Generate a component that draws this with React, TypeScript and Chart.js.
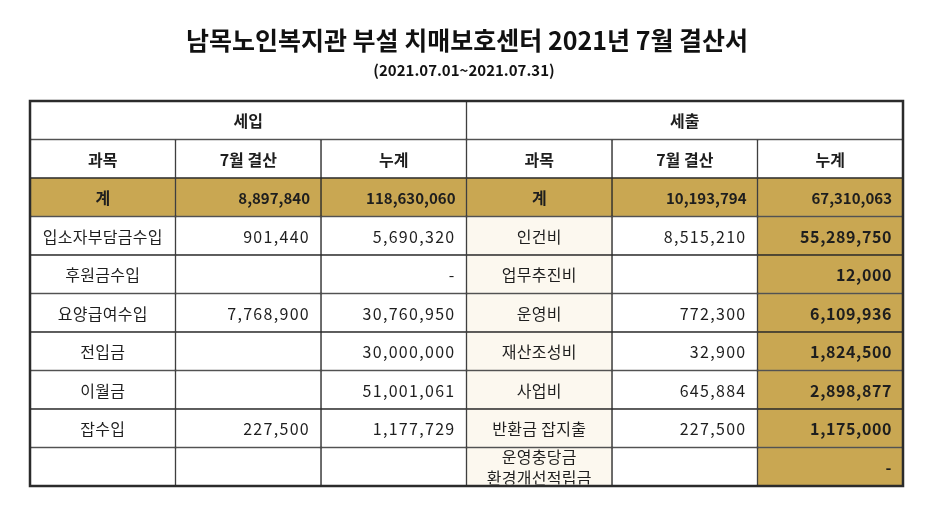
import React, { useEffect, useRef } from "react";
import { Chart, registerables } from "chart.js";

Chart.register(...registerables);

const titleText = "남목노인복지관 부설 치매보호센터 2021년 7월 결산서";
const subtitleText = "(2021.07.01~2021.07.31)";

const sectionHeaders = ["세입", "세출"];
const columnHeaders = ["과목", "7월 결산", "누계"];
const totalLabel = "계";

const incomeItems = ["입소자부담금수입", "후원금수입", "요양급여수입", "전입금", "이월금", "잡수입", ""];
const incomeMonth: (number | null)[] = [901440, null, 7768900, null, null, 227500, null];
const incomeCumulative: (number | null)[] = [5690320, 0, 30760950, 30000000, 51001061, 1177729, null];
const incomeTotalMonth = 8897840;
const incomeTotalCumulative = 118630060;

const expenseItems = ["인건비", "업무추진비", "운영비", "재산조성비", "사업비", "반환금 잡지출", "운영충당금\n환경개선적립금"];
const expenseMonth: (number | null)[] = [8515210, null, 772300, 32900, 645884, 227500, null];
const expenseCumulative: (number | null)[] = [55289750, 12000, 6109936, 1824500, 2898877, 1175000, 0];
const expenseTotalMonth = 10193794;
const expenseTotalCumulative = 67310063;

const rowKeys = ["section", "header", "total", "r1", "r2", "r3", "r4", "r5", "r6", "r7"];
const columnCount = 6;

const GOLD = "#c9a752";
const CREAM = "#fcf8ef";
const WHITE = "#ffffff";
const LINE = "#2b2b2b";
const TEXT = "#1e1e1e";
const FONT = '"Noto Sans CJK KR", "Noto Sans", sans-serif';

const fmt = (v: number | null) => (v === null ? "" : v === 0 ? "-" : v.toLocaleString("en-US"));

type Cell = { text: string; align: "center" | "right"; font: string; spacing: number };

const F_HEAD = `bold 16px ${FONT}`;
const F_TOTAL = `bold 15px ${FONT}`;
const F_ITEM = `16px ${FONT}`;
const F_NUM = `16px ${FONT}`;
const F_NUM_BOLD = `bold 16px ${FONT}`;

function cellFor(row: number, col: number): Cell | null {
  if (row === 0) {
    if (col === 0) return { text: sectionHeaders[0], align: "center", font: F_HEAD, spacing: 0 };
    if (col === 3) return { text: sectionHeaders[1], align: "center", font: F_HEAD, spacing: 0 };
    return null;
  }
  if (row === 1) return { text: columnHeaders[col % 3], align: "center", font: F_HEAD, spacing: 0 };
  if (row === 2) {
    const vals = [totalLabel, fmt(incomeTotalMonth), fmt(incomeTotalCumulative), totalLabel, fmt(expenseTotalMonth), fmt(expenseTotalCumulative)];
    return { text: vals[col], align: col % 3 === 0 ? "center" : "right", font: col % 3 === 0 ? F_HEAD : F_TOTAL, spacing: 0 };
  }
  const i = row - 3;
  switch (col) {
    case 0: return { text: incomeItems[i], align: "center", font: F_ITEM, spacing: 0.3 };
    case 1: return { text: fmt(incomeMonth[i]), align: "right", font: F_NUM, spacing: 1.3 };
    case 2: return { text: fmt(incomeCumulative[i]), align: "right", font: F_NUM, spacing: 1.3 };
    case 3: return { text: expenseItems[i], align: "center", font: F_ITEM, spacing: 0.3 };
    case 4: return { text: fmt(expenseMonth[i]), align: "right", font: F_NUM, spacing: 1.3 };
    default: return { text: fmt(expenseCumulative[i]), align: "right", font: F_NUM_BOLD, spacing: 0.6 };
  }
}

function fillFor(row: number, col: number): string {
  if (row === 2) return GOLD;
  if (row >= 3 && col === 5) return GOLD;
  if (row >= 3 && col === 3) return CREAM;
  return WHITE;
}

const tablePlugin = {
  id: "tableText",
  afterDatasetsDraw(chart: any) {
    const { ctx, scales, chartArea } = chart;
    const xs = scales.x;
    const ys = scales.y;
    const rowH = Math.abs(ys.getPixelForValue(1) - ys.getPixelForValue(0));
    ctx.save();
    ctx.lineWidth = 2.5;
    ctx.strokeStyle = LINE;
    ctx.strokeRect(chartArea.left, chartArea.top, chartArea.right - chartArea.left, chartArea.bottom - chartArea.top);
    for (let r = 0; r < rowKeys.length; r++) {
      const cy = ys.getPixelForValue(r);
      for (let c = 0; c < columnCount; c++) {
        const cell = cellFor(r, c);
        if (!cell || !cell.text) continue;
        const span = r === 0 ? 3 : 1;
        const x0 = xs.getPixelForValue(c);
        const x1 = xs.getPixelForValue(c + span);
        ctx.save();
        ctx.beginPath();
        ctx.rect(x0 + 1, cy - rowH / 2 + 1.5, x1 - x0 - 2, rowH - 3);
        ctx.clip();
        ctx.fillStyle = TEXT;
        ctx.font = cell.font;
        (ctx as any).letterSpacing = `${cell.spacing}px`;
        ctx.textBaseline = "middle";
        ctx.textAlign = cell.align;
        const tx = cell.align === "center" ? (x0 + x1) / 2 : x1 - 11;
        const lines = cell.text.split("\n");
        const lh = 21;
        lines.forEach((ln, k) => {
          const ty = cy + 1 + (k - (lines.length - 1) / 2) * lh;
          ctx.fillText(ln, tx, ty);
        });
        ctx.restore();
      }
    }
    ctx.restore();
  },
  afterDraw(chart: any) {
    const { ctx, width } = chart;
    ctx.save();
    ctx.fillStyle = "#111";
    ctx.textAlign = "center";
    ctx.textBaseline = "middle";
    ctx.font = `bold 25px ${FONT}`;
    ctx.fillText(titleText, width / 2 - 3, 40);
    ctx.font = `bold 15px ${FONT}`;
    ctx.fillText(subtitleText, width / 2 - 6, 70);
    ctx.restore();
  },
};

export default function App() {
  const ref = useRef<HTMLCanvasElement>(null);
  useEffect(() => {
    document.body.style.margin = "0";
    const datasets = [];
    for (let c = 0; c < columnCount; c++) {
      const data = rowKeys.map((_, r) => {
        if (r === 0) {
          if (c === 0) return [0, 3];
          if (c === 3) return [3, 6];
          return null;
        }
        return [c, c + 1];
      });
      datasets.push({
        label: `col${c}`,
        data,
        backgroundColor: rowKeys.map((_, r) => fillFor(r, c)),
        borderColor: LINE,
        borderWidth: 1,
        borderSkipped: false,
        barPercentage: 1,
        categoryPercentage: 1,
        grouped: false,
      });
    }
    const chart = new Chart(ref.current!, {
      type: "bar",
      data: { labels: rowKeys, datasets: datasets as any },
      options: {
        indexAxis: "y",
        responsive: false,
        animation: false,
        layout: { padding: { left: 30, right: 37, top: 101, bottom: 36 } },
        scales: {
          x: { type: "linear", min: 0, max: columnCount, display: false },
          y: { type: "category", display: false },
        },
        plugins: { legend: { display: false }, tooltip: { enabled: false }, title: { display: false } },
      },
      plugins: [tablePlugin],
    });
    return () => chart.destroy();
  }, []);
  return (
    <div style={{ position: "absolute", left: 0, top: 0, width: 940, height: 522, background: "#fff" }}>
      <canvas ref={ref} width={940} height={522} style={{ display: "block" }} />
    </div>
  );
}
